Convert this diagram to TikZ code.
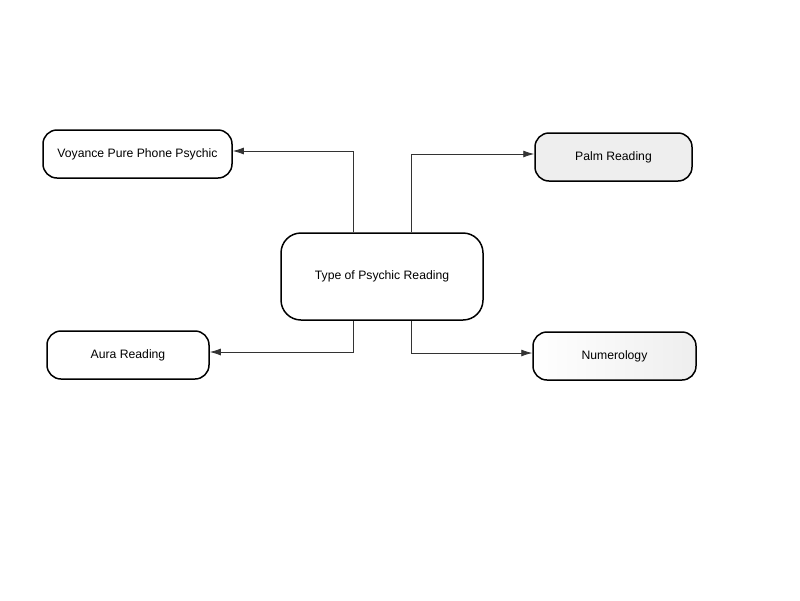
\documentclass[tikz,border=0pt]{standalone}
\usepackage{fontspec}
\setmainfont{Liberation Sans}
\usepackage{tikz}
\usetikzlibrary{arrows.meta}
\definecolor{PalmGray}{HTML}{EEEEEE}
\definecolor{LineGray}{HTML}{333333}
\tikzstyle{reading} = [rectangle, rounded corners=14pt, minimum height=48pt, text centered, draw=black, line width=1.5pt, fill=white, font=\fontsize{12.2}{14}\selectfont]
\tikzstyle{main} = [reading, rounded corners=20pt, minimum width=202pt, minimum height=87pt]
\tikzstyle{arrow} = [draw=LineGray, line width=0.8pt, -{Latex[length=11pt,width=7pt]}]

\begin{document}
\begin{tikzpicture}[x=1pt, y=-1pt, node distance=230pt]

\useasboundingbox (0,0) rectangle (800,600);

\node (type) [main] at (382,276.5) {Type of Psychic Reading};

\node (voyance) [reading, minimum width=189pt, left of=type, xshift=-14.5pt, yshift=122.5pt] {Voyance Pure Phone Psychic};
\node (palm) [reading, minimum width=157pt, fill=PalmGray, right of=type, xshift=1.5pt, yshift=119.5pt] {Palm Reading};

\node (aura) [reading, minimum width=162pt, left of=type, xshift=-24pt, yshift=-78.5pt] {Aura Reading};
\node (numerology) [reading, minimum width=163pt, left color=white, right color=PalmGray, right of=type, xshift=2.5pt, yshift=-79.5pt] {Numerology};

\draw [arrow] ([xshift=-29pt]type.north) |- ([yshift=3pt]voyance.east);
\draw [arrow] ([xshift=29pt]type.north) |- ([yshift=3pt]palm.west);

\draw [arrow] ([xshift=-29pt]type.south) |- ([yshift=3pt]aura.east);
\draw [arrow] ([xshift=29pt]type.south) |- ([yshift=3pt]numerology.west);

\end{tikzpicture}
\end{document}
